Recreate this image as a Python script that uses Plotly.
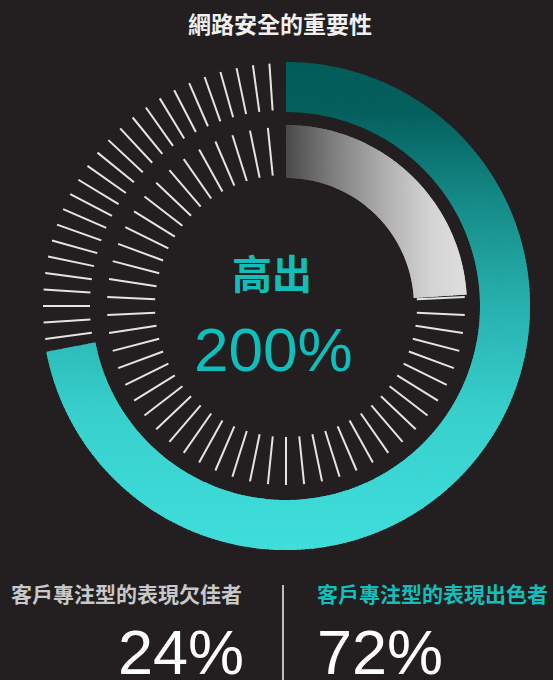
import numpy as np
import plotly.graph_objects as go

W, H = 553, 680
BG = "#231f20"

# ---- content -------------------------------------------------------------
title_text = "網路安全的重要性"
group_labels = ["客戶專注型的表現欠佳者", "客戶專注型的表現出色者"]
group_shares = [24, 72]            # percent of a full turn
uplift_word = "高出"
uplift_pct = 200

# ---- ring geometry (radial axis units are pixels) -------------------------
CX, CY = 286, 306                  # ring centre in page pixels
R_MAX = 250
OUTER = (194, 244)                 # 72 % ring
INNER = (128, 181)                 # 24 % ring
OUTER_TICK = (196, 243)
INNER_TICK = (131, 179)
OUTER_TICK_COUNT = 92              # ticks per full turn
INNER_TICK_COUNT = 62

TEAL_STOPS = [(0.0, "#035c5a"), (0.10, "#045f5d"), (0.28, "#158a87"),
              (0.50, "#28b1ae"), (0.72, "#38d0cd"), (1.0, "#3fdedb")]
GREY_STOPS = [(0.0, "#4a4a4a"), (0.25, "#7d7d7d"), (0.55, "#b0b0b0"),
              (0.80, "#d4d4d4"), (1.0, "#dedede")]


def hex_rgb(h):
    h = h.lstrip("#")
    return np.array([int(h[i:i + 2], 16) for i in (0, 2, 4)], dtype=float)


def ramp(stops, t):
    t = float(np.clip(t, 0, 1))
    for (p0, c0), (p1, c1) in zip(stops[:-1], stops[1:]):
        if t <= p1:
            f = 0 if p1 == p0 else (t - p0) / (p1 - p0)
            c = hex_rgb(c0) * (1 - f) + hex_rgb(c1) * f
            return "rgb(%d,%d,%d)" % tuple(np.round(c))
    return "rgb(%d,%d,%d)" % tuple(hex_rgb(stops[-1][1]))


def gradient_arc(share, r_in, r_out, color_at, dtheta=1.0, bands=5,
                 overlap_deg=0.6, overlap_r=1.5):
    """Arc of `share` percent drawn as small wedges coloured by position.

    Each wedge reaches slightly into the next one (which is drawn later),
    so no anti-aliasing seams show between neighbours.
    """
    span = share / 100 * 360
    n = int(np.ceil(span / dtheta))
    edges = np.linspace(0, span, n + 1)
    r_edges = np.linspace(r_in, r_out, bands + 1)
    th, wd, bs, rr, cols = [], [], [], [], []
    for i in range(bands):
        rm = (r_edges[i] + r_edges[i + 1]) / 2
        r_len = r_edges[i + 1] - r_edges[i] + (overlap_r if i < bands - 1 else 0)
        for j in range(n):
            a0, a1 = edges[j], edges[j + 1]
            a1x = a1 + (overlap_deg if j < n - 1 else 0)
            th.append((a0 + a1x) / 2)
            wd.append(a1x - a0)
            bs.append(r_edges[i])
            rr.append(r_len)
            cols.append(color_at(rm, (a0 + a1) / 2))
    return go.Barpolar(theta=th, width=wd, base=bs, r=rr,
                       marker=dict(color=cols, line=dict(width=0)),
                       hoverinfo="skip", showlegend=False)


def tick_marks(share, count, r0, r1, margin=0.5):
    step = 360 / count
    start = share / 100 * 360
    ang = [k * step for k in range(count) if start + margin < k * step < 360 - 2]
    th, rr = [], []
    for a in ang:
        th += [a, a, None]
        rr += [r0, r1, None]
    return go.Scatterpolar(theta=th, r=rr, mode="lines",
                           line=dict(color="#e4e4e4", width=2),
                           hoverinfo="skip", showlegend=False)


def teal_at(r, theta):
    y = -r * np.cos(np.radians(theta))          # downward offset from centre
    return ramp(TEAL_STOPS, (y + OUTER[1]) / (2 * OUTER[1]))


def grey_at(r, theta):
    x = r * np.sin(np.radians(theta))           # rightward offset from centre
    return ramp(GREY_STOPS, x / INNER[1])


low_share, high_share = group_shares

fig = go.Figure()
fig.add_trace(gradient_arc(high_share, OUTER[0], OUTER[1], teal_at,
                           dtheta=1.0, bands=8))
fig.add_trace(gradient_arc(low_share, INNER[0], INNER[1], grey_at,
                           dtheta=0.5, bands=14, overlap_deg=0.4, overlap_r=1.2))
fig.add_trace(tick_marks(high_share, OUTER_TICK_COUNT, *OUTER_TICK))
fig.add_trace(tick_marks(low_share, INNER_TICK_COUNT, *INNER_TICK))


def px(x):
    return x / W


def py(y):
    return 1 - y / H


CJK = "Noto Sans CJK TC"
LATIN = "Liberation Sans, Arial, sans-serif"

annotations = [
    dict(text=title_text, x=px(280), y=py(23), xanchor="center", yanchor="middle",
         font=dict(family=CJK, size=23, color="#f0f0f0", weight="bold")),
    dict(text=uplift_word, x=px(272), y=py(272), xanchor="center", yanchor="middle",
         font=dict(family=CJK, size=40, color="#14bdba", weight="bold")),
    dict(text=f"{uplift_pct}%", x=px(273), y=py(350), xanchor="center", yanchor="middle",
         font=dict(family=LATIN, size=62, color="#0fbfbc")),
    dict(text=group_labels[0], x=px(9), y=py(593), xanchor="left", yanchor="middle",
         font=dict(family=CJK, size=21, color="#c8c8c8", weight="bold")),
    dict(text=group_labels[1], x=px(315), y=py(593), xanchor="left", yanchor="middle",
         font=dict(family=CJK, size=21, color="#13bdba", weight="bold")),
    # the big shares sit against the bottom edge, so give them a compact box
    dict(text=f"{low_share}%", x=px(246), y=py(652), xanchor="right", yanchor="middle",
         height=54, valign="middle",
         font=dict(family=LATIN, size=63, color="#ffffff")),
    dict(text=f"{high_share}%", x=px(315), y=py(652), xanchor="left", yanchor="middle",
         height=54, valign="middle",
         font=dict(family=LATIN, size=63, color="#ffffff")),
]
for a in annotations:
    a.update(xref="paper", yref="paper", showarrow=False)

fig.update_layout(
    width=W, height=H,
    margin=dict(l=0, r=0, t=0, b=0),
    paper_bgcolor=BG, plot_bgcolor=BG,
    showlegend=False,
    annotations=annotations,
    shapes=[dict(type="line", xref="paper", yref="paper",
                 x0=px(283), x1=px(283), y0=py(585), y1=py(682),
                 line=dict(color="#f2f2f2", width=1.5))],
    polar=dict(
        domain=dict(x=[px(CX - R_MAX), px(CX + R_MAX)],
                    y=[py(CY + R_MAX), py(CY - R_MAX)]),
        bgcolor="rgba(0,0,0,0)",
        barmode="overlay",
        hole=0,
        radialaxis=dict(range=[0, R_MAX], visible=False, showgrid=False),
        angularaxis=dict(rotation=90, direction="clockwise", visible=False,
                         showgrid=False, showline=False, ticks=""),
    ),
)

fig.write_html("out.html")
